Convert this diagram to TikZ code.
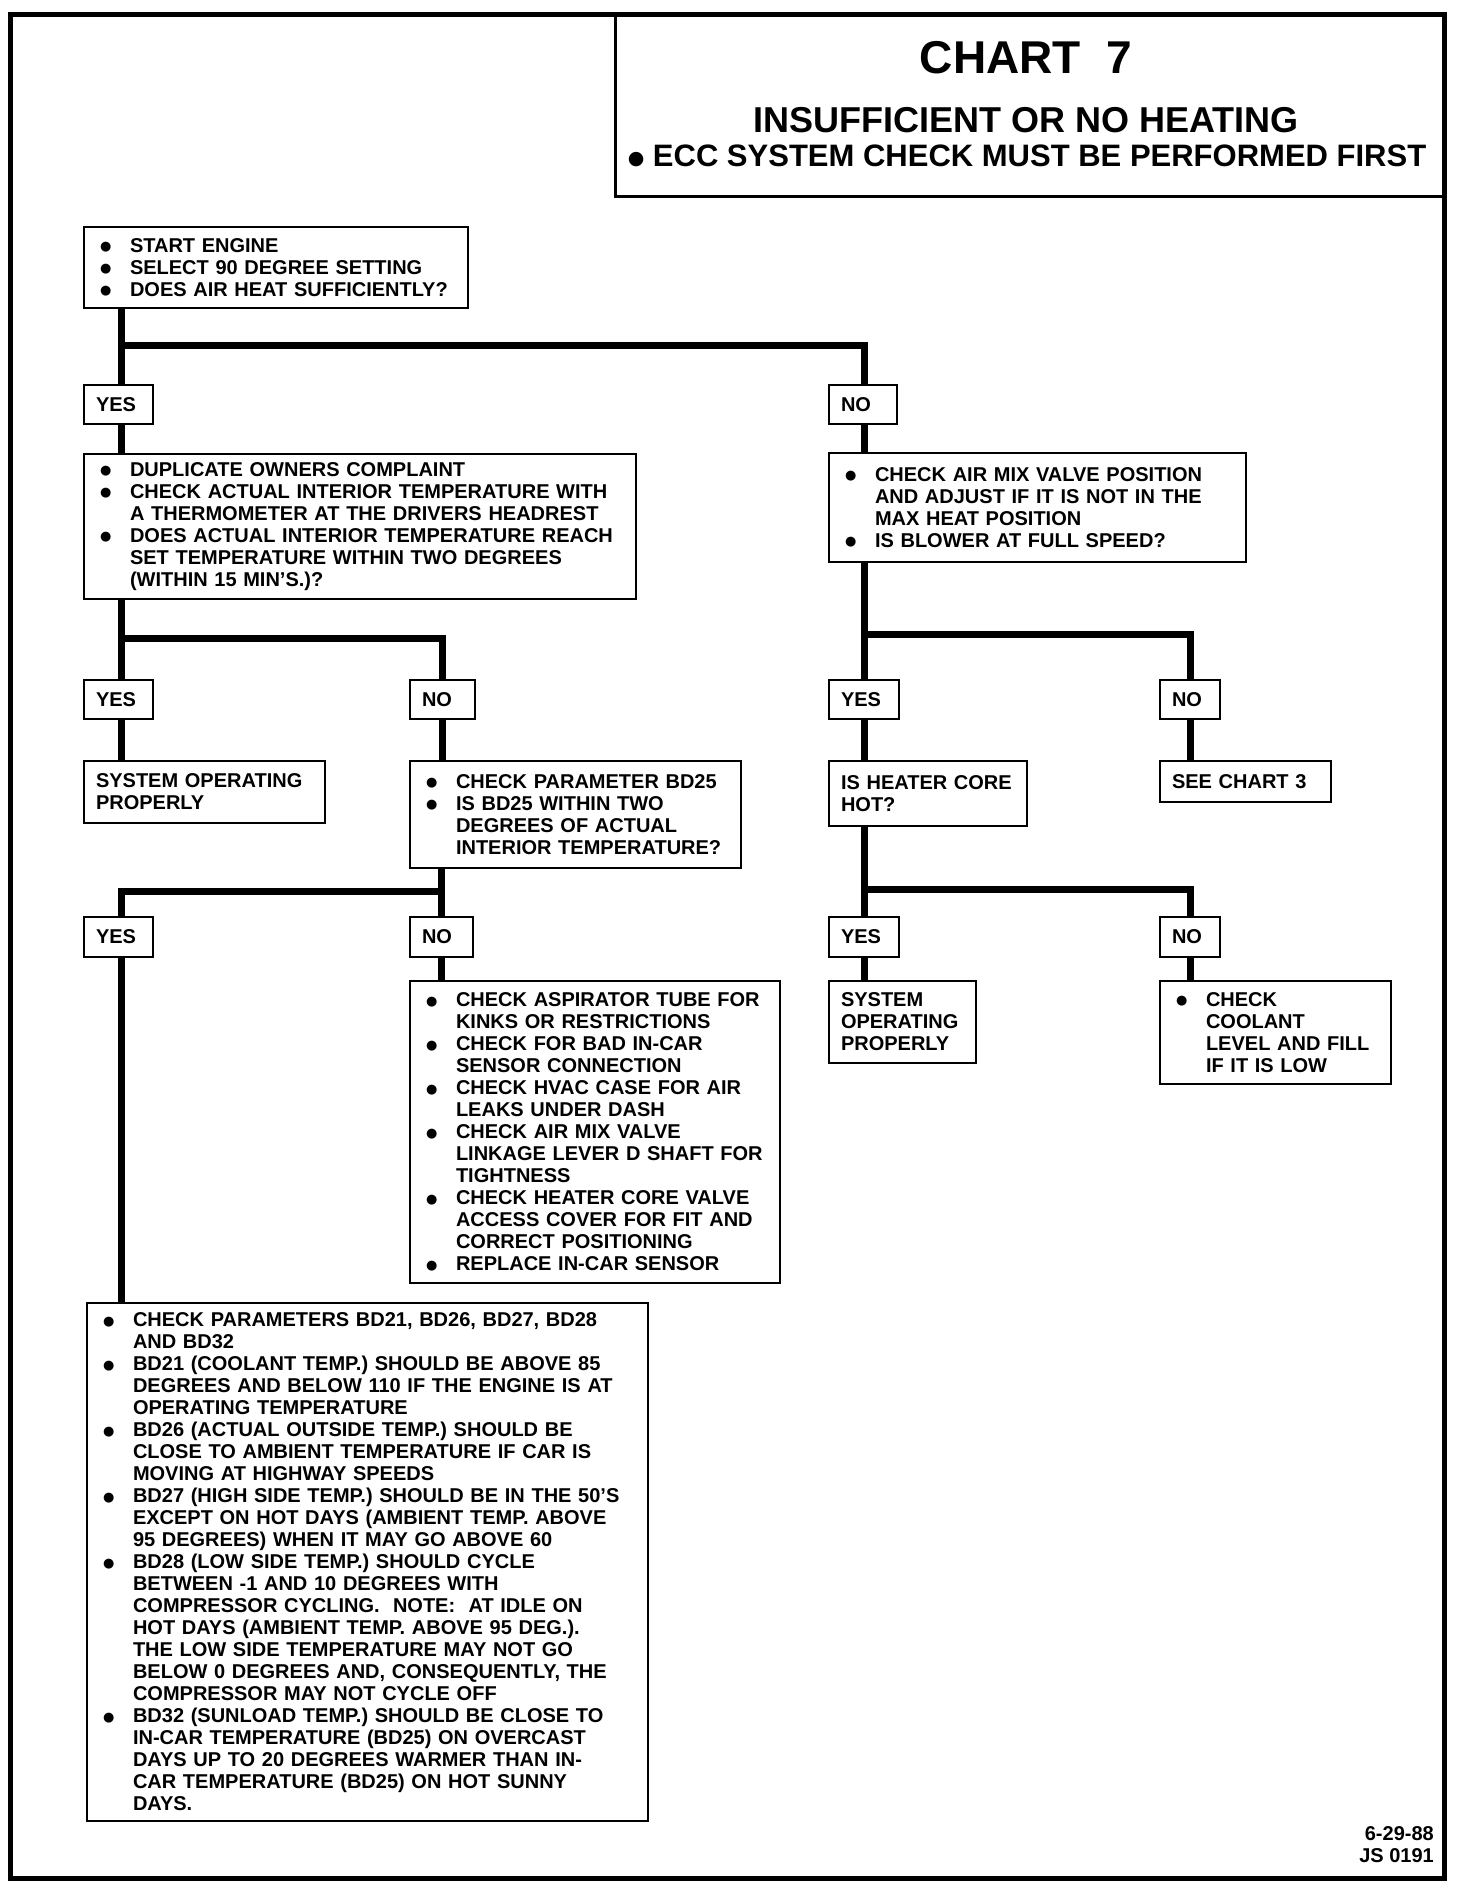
\documentclass[tikz,border=0pt]{standalone}
\usepackage{fontspec}
\setmainfont{Liberation Sans}
\newfontfamily\dejavu{DejaVu Sans}
\newcommand\mydot{\raisebox{1.5pt}{\dejavu\fontsize{13}{13}\selectfont ●}}
\newcommand\myb[1]{\makebox[30pt][l]{\mydot}\mbox{#1}}
\newcommand\myi[1]{\hspace*{30pt}\mbox{#1}}
\begin{document}
\begin{tikzpicture}[x=1pt,y=-1pt,
  txt/.style={font=\fontsize{20}{22}\selectfont\bfseries},
  box/.style={txt, draw, line width=2.5pt, anchor=north west, inner xsep=16pt, inner ysep=0pt, outer sep=0pt, align=left},
  lbl/.style={txt, draw, line width=2.5pt, anchor=north west, inner xsep=12pt, inner ysep=0pt, outer sep=0pt, align=left},
  conn/.style={line width=7pt, line join=miter, line cap=butt},
]
\useasboundingbox (0,0) rectangle (1472,1888);
\fill[white] (0,0) rectangle (1472,1888);
\draw[line width=5pt] (10,14) rectangle (1444,1878);

% title
\node[draw, line width=3pt, anchor=north west, minimum width=829pt, minimum height=182pt, inner sep=0pt, outer sep=0pt] (title) at (615,14) {};
\node[font=\fontsize{46}{46}\selectfont\bfseries, inner sep=0pt] (t1) at (1026,58) {CHART\ \ 7};
\node[font=\fontsize{36}{36}\selectfont\bfseries, inner sep=0pt] (t2) at (1026,120) {INSUFFICIENT OR NO HEATING};
\node[font=\fontsize{31}{31}\selectfont\bfseries, inner sep=0pt] (t3) at (1027,156) {\raisebox{2pt}{\dejavu\fontsize{19}{19}\selectfont ●} ECC SYSTEM CHECK MUST BE PERFORMED FIRST};

% boxes
\node[box, text width=352pt, minimum height=81pt] (start) at (84,227)
 {\myb{START ENGINE}\\ \myb{SELECT 90 DEGREE SETTING}\\ \myb{DOES AIR HEAT SUFFICIENTLY?}};

\node[lbl, text width=45pt, minimum height=39pt] (yes1) at (84,385) {YES};
\node[lbl, text width=44pt, minimum height=39pt] (no1) at (829,385) {NO};

\node[box, text width=520pt, minimum height=145pt] (dup) at (84,454)
 {\myb{DUPLICATE OWNERS COMPLAINT}\\
  \myb{CHECK ACTUAL INTERIOR TEMPERATURE WITH}\\
  \myi{A THERMOMETER AT THE DRIVERS HEADREST}\\
  \myb{DOES ACTUAL INTERIOR TEMPERATURE REACH}\\
  \myi{SET TEMPERATURE WITHIN TWO DEGREES}\\
  \myi{(WITHIN 15 MIN'S.)?}};

\node[box, text width=385pt, minimum height=109pt] (airmix) at (829,453)
 {\myb{CHECK AIR MIX VALVE POSITION}\\
  \myi{AND ADJUST IF IT IS NOT IN THE}\\
  \myi{MAX HEAT POSITION}\\
  \myb{IS BLOWER AT FULL SPEED?}};

\node[lbl, text width=45pt, minimum height=39pt] (yes2) at (84,680) {YES};
\node[lbl, text width=41pt, minimum height=39pt] (no2) at (410,680) {NO};

\node[lbl, text width=217pt, minimum height=62pt] (sysop1) at (84,761)
 {SYSTEM OPERATING\\ PROPERLY};

\node[box, text width=299pt, minimum height=107pt] (bd25) at (410,761)
 {\myb{CHECK PARAMETER BD25}\\
  \myb{IS BD25 WITHIN TWO}\\
  \myi{DEGREES OF ACTUAL}\\
  \myi{INTERIOR TEMPERATURE?}};

\node[lbl, text width=46pt, minimum height=39pt] (yes3) at (829,680) {YES};
\node[lbl, text width=36pt, minimum height=39pt] (no3) at (1160,680) {NO};

\node[lbl, text width=174pt, minimum height=65pt] (heater) at (829,761)
 {IS HEATER CORE\\ HOT?};
\node[lbl, text width=147pt, minimum height=41pt] (chart3) at (1160,761)
 {SEE CHART 3};

\node[lbl, text width=46pt, minimum height=40pt] (yes4) at (829,917) {YES};
\node[lbl, text width=36pt, minimum height=40pt] (no4) at (1160,917) {NO};

\node[lbl, text width=123pt, minimum height=82pt] (sysop2) at (829,981)
 {SYSTEM\\ OPERATING\\ PROPERLY};

\node[box, text width=199pt, minimum height=103pt] (coolant) at (1160,981)
 {\myb{CHECK}\\ \myi{COOLANT}\\ \myi{LEVEL AND FILL}\\ \myi{IF IT IS LOW}};

\node[lbl, text width=45pt, minimum height=40pt] (yes5) at (84,917) {YES};
\node[lbl, text width=39pt, minimum height=40pt] (no5) at (410,917) {NO};

\node[box, text width=338pt, minimum height=302pt] (aspir) at (410,981)
 {\myb{CHECK ASPIRATOR TUBE FOR}\\
  \myi{KINKS OR RESTRICTIONS}\\
  \myb{CHECK FOR BAD IN-CAR}\\
  \myi{SENSOR CONNECTION}\\
  \myb{CHECK HVAC CASE FOR AIR}\\
  \myi{LEAKS UNDER DASH}\\
  \myb{CHECK AIR MIX VALVE}\\
  \myi{LINKAGE LEVER D SHAFT FOR}\\
  \myi{TIGHTNESS}\\
  \myb{CHECK HEATER CORE VALVE}\\
  \myi{ACCESS COVER FOR FIT AND}\\
  \myi{CORRECT POSITIONING}\\
  \myb{REPLACE IN-CAR SENSOR}};

\node[box, text width=529pt, minimum height=518pt] (params) at (87,1303)
 {\myb{CHECK PARAMETERS BD21, BD26, BD27, BD28}\\
  \myi{AND BD32}\\
  \myb{BD21 (COOLANT TEMP.) SHOULD BE ABOVE 85}\\
  \myi{DEGREES AND BELOW 110 IF THE ENGINE IS AT}\\
  \myi{OPERATING TEMPERATURE}\\
  \myb{BD26 (ACTUAL OUTSIDE TEMP.) SHOULD BE}\\
  \myi{CLOSE TO AMBIENT TEMPERATURE IF CAR IS}\\
  \myi{MOVING AT HIGHWAY SPEEDS}\\
  \myb{BD27 (HIGH SIDE TEMP.) SHOULD BE IN THE 50'S}\\
  \myi{EXCEPT ON HOT DAYS (AMBIENT TEMP. ABOVE}\\
  \myi{95 DEGREES) WHEN IT MAY GO ABOVE 60}\\
  \myb{BD28 (LOW SIDE TEMP.) SHOULD CYCLE}\\
  \myi{BETWEEN -1 AND 10 DEGREES WITH}\\
  \myi{COMPRESSOR CYCLING.\ \ NOTE:\ \ AT IDLE ON}\\
  \myi{HOT DAYS (AMBIENT TEMP. ABOVE 95 DEG.).}\\
  \myi{THE LOW SIDE TEMPERATURE MAY NOT GO}\\
  \myi{BELOW 0 DEGREES AND, CONSEQUENTLY, THE}\\
  \myi{COMPRESSOR MAY NOT CYCLE OFF}\\
  \myb{BD32 (SUNLOAD TEMP.) SHOULD BE CLOSE TO}\\
  \myi{IN-CAR TEMPERATURE (BD25) ON OVERCAST}\\
  \myi{DAYS UP TO 20 DEGREES WARMER THAN IN-}\\
  \myi{CAR TEMPERATURE (BD25) ON HOT SUNNY}\\
  \myi{DAYS.}};

\node[txt, anchor=north east, align=right, inner sep=0pt] (date) at (1434,1826) {6-29-88\\ JS 0191};

% junctions
\coordinate (j1) at (121,345);
\coordinate (j2) at (121,638);
\coordinate (j3) at (864,634);
\coordinate (j4) at (864,889);
\coordinate (j5) at (121,891);

% connectors
\draw[conn] (start.south -| j1) -- (yes1.north -| j1);
\draw[conn] (j1) -| (no1.north -| j3);
\draw[conn] (yes1.south -| j1) -- (dup.north -| j1);
\draw[conn] (no1.south -| j3) -- (airmix.north -| j3);

\draw[conn] (dup.south -| j2) -- (yes2.north -| j2);
\draw[conn] (j2) -| (no2.north);
\draw[conn] (yes2.south -| j2) -- (sysop1.north -| j2);
\draw[conn] (no2.south) -- (no2.south |- bd25.north);

\draw[conn] (airmix.south -| j3) -- (yes3.north -| j3);
\draw[conn] (j3) -| (no3.north);
\draw[conn] (yes3.south -| j3) -- (heater.north -| j3);
\draw[conn] (no3.south) -- (no3.south |- chart3.north);

\draw[conn] (heater.south -| j4) -- (yes4.north -| j4);
\draw[conn] (j4) -| (no4.north);
\draw[conn] (yes4.south -| j4) -- (sysop2.north -| j4);
\draw[conn] (no4.south) -- (no4.south |- coolant.north);

\draw[conn] (bd25.south -| no5.north) -- (no5.north);
\draw[conn] (j5 -| no5.north) -| (yes5.north -| j5);
\draw[conn] (yes5.south -| j5) -- (params.north -| j5);
\draw[conn] (no5.south) -- (no5.south |- aspir.north);
\end{tikzpicture}
\end{document}
